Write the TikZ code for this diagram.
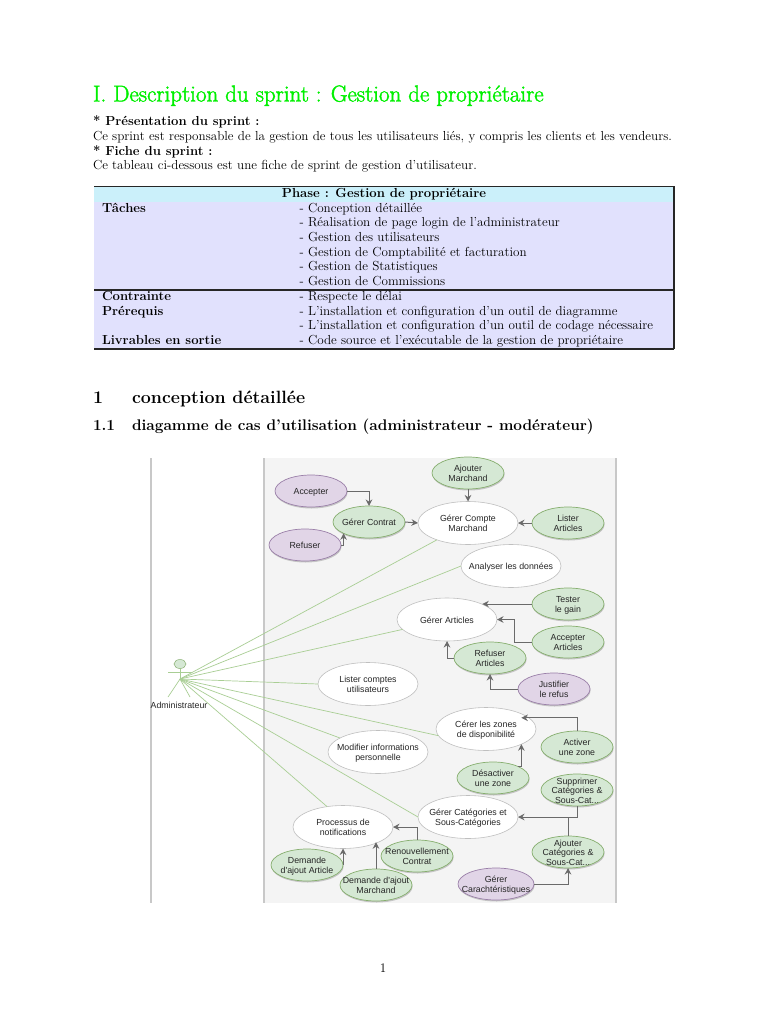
\documentclass[tikz,border=0pt]{standalone}
\usepackage{fontspec}
\newfontfamily\diagfont{Liberation Sans}
\usetikzlibrary{shapes.geometric,arrows.meta,shadows}
\definecolor{titlegreen}{HTML}{00F000}
\definecolor{headband}{HTML}{CBF0FA}
\definecolor{bodyband}{HTML}{E1E1FD}
\definecolor{panelgray}{HTML}{F4F4F4}
\definecolor{framegray}{HTML}{C8C8C8}
\definecolor{usegreen}{HTML}{D5E8D4}
\definecolor{usegreenb}{HTML}{86AE6E}
\definecolor{usepurple}{HTML}{E1D5E7}
\definecolor{usepurpleb}{HTML}{9A7FA8}
\definecolor{linkgreen}{HTML}{A9CE94}
\definecolor{arrowgray}{HTML}{6A6A6A}
\newcommand\tx[1]{\makebox[0pt]{\raisebox{-4pt}[0pt][0pt]{$\vcenter{\hbox{\begin{tabular}{@{}c@{}}#1\end{tabular}}}$}}}
\newcommand\thick[1]{\special{pdf:code 2 Tr 0.4 w}#1\special{pdf:code 0 Tr}}
\tikzset{
  txt/.style={anchor=base west,inner sep=0pt,outer sep=0pt,font=\fontsize{13.1}{15}\selectfont},
  txb/.style={txt,font=\fontsize{13.1}{15}\selectfont\bfseries},
  uc/.style={ellipse,inner sep=0pt,outer sep=0pt,minimum width=72pt,minimum height=32pt,
    font=\diagfont\fontsize{8.8}{9.5}\selectfont,text=black!85,line width=.7pt,
    drop shadow={shadow xshift=.6pt,shadow yshift=-1.5pt,fill=black!35,opacity=.6}},
  ucg/.style={uc,draw=usegreenb,fill=usegreen},
  ucp/.style={uc,draw=usepurpleb,fill=usepurple},
  ucw/.style={ellipse,inner sep=0pt,outer sep=0pt,minimum width=100pt,minimum height=43pt,
    font=\diagfont\fontsize{8.8}{9.5}\selectfont,text=black!85,line width=.6pt,draw=black!25,fill=white},
  assoc/.style={draw=linkgreen,line width=.7pt},
  dep/.style={draw=arrowgray,line width=1pt,-{Stealth[length=6.5pt,width=6.5pt]}},
  depn/.style={draw=arrowgray,line width=1pt},
  frameln/.style={draw=framegray,line width=1.3pt},
  rule/.style={draw=black!85,line width=1.1pt}
}
\begin{document}
\begin{tikzpicture}[x=1pt,y=-1pt]
\useasboundingbox (0,0) rectangle (768,1024);
\fill[white] (0,0) rectangle (768,1024);

% headings and text
\node[txt,text=titlegreen,font=\fontsize{23}{26}\selectfont] (title) at (93,101.5) {\thick{I. Description du sprint : Gestion de propriétaire}};
\node[txb] (p1) at (93,126) {* Présentation du sprint :};
\node[txt] (p2) at (93,141) {Ce sprint est responsable de la gestion de tous les utilisateurs liés, y compris les clients et les vendeurs.};
\node[txb] (p3) at (93,156) {* Fiche du sprint :};
\node[txt] (p4) at (93,170) {Ce tableau ci-dessous est une fiche de sprint de gestion d’utilisateur.};

% table
\fill[bodyband] (94,187) rectangle (674,349);
\fill[headband] (94,187) rectangle (674,202);
\draw[rule] (94,186.5) -- (674,186.5);
\draw[rule] (94,290) -- (674,290);
\draw[rule] (94,349) -- (674,349);
\draw[rule] (674,186.5) -- (674,349);
\node[txb,anchor=base] (th) at (384,198) {Phase : Gestion de propriétaire};
\node[txb] (c1) at (102,212.5) {Tâches};
\node[txt] (d1) at (299.5,212.5) {- Conception détaillée};
\node[txt] (d2) at (299.5,226.5) {- Réalisation de page login de l’administrateur};
\node[txt] (d3) at (299.5,241.5) {- Gestion des utilisateurs};
\node[txt] (d4) at (299.5,256) {- Gestion de Comptabilité et facturation};
\node[txt] (d5) at (299.5,270.5) {- Gestion de Statistiques};
\node[txt] (d6) at (299.5,285.5) {- Gestion de Commissions};
\node[txb] (c2) at (102,300) {Contrainte};
\node[txt] (d7) at (299.5,300) {- Respecte le délai};
\node[txb] (c3) at (102,315) {Prérequis};
\node[txt] (d8) at (299.5,315) {- L’installation et configuration d’un outil de diagramme};
\node[txt] (d9) at (299.5,329.5) {- L’installation et configuration d’un outil de codage nécessaire};
\node[txb] (c4) at (102,344.5) {Livrables en sortie};
\node[txt] (d10) at (299.5,344.5) {- Code source et l’exécutable de la gestion de propriétaire};

\node[txb,font=\fontsize{17.8}{22}\selectfont\bfseries] (s1n) at (93,403) {1};
\node[txb,font=\fontsize{17.8}{22}\selectfont\bfseries] (s1) at (132,403) {conception détaillée};
\node[txb,font=\fontsize{15.4}{18}\selectfont\bfseries] (s2n) at (93,430) {1.1};
\node[txb,font=\fontsize{15.4}{18}\selectfont\bfseries] (s2) at (132,430) {diagamme de cas d’utilisation (administrateur - modérateur)};
\node[txt,anchor=base] (pg) at (383,972) {1};

% diagram frame
\fill[panelgray] (264,458) rectangle (616,903);
\draw[frameln] (151,458) -- (151,903);
\draw[frameln] (264,458) -- (264,903);
\draw[frameln] (616,458) -- (616,903);

% actor
\coordinate (hub) at (180,679);
\node[ellipse,draw=usegreenb,fill=usegreen,inner sep=0pt,minimum width=12pt,minimum height=9pt,line width=.5pt] (head) at (180,664) {};
\coordinate (armL) at (168,672);
\coordinate (armR) at (192,672);
\coordinate (legL) at (168,697);
\coordinate (legM) at (190,697);
\draw[assoc] (head.south) -- (hub);
\draw[assoc] (armL) -- (armR);
\draw[assoc] (hub) -- (legL);
\draw[assoc] (hub) -- (legM);
\node[font=\diagfont\fontsize{8.8}{9.5}\selectfont,text=black!85,inner sep=0pt] (admin) at (179,705) {Administrateur};

% white use cases
\node[ucw] (cmp) at (468,523) {\tx{Gérer Compte\\Marchand}};
\node[ucw] (ana) at (511,566) {\tx{Analyser les données}};
\node[ucw] (ges) at (447,619.5) {\tx{Gérer Articles}};
\node[ucw] (lst) at (368,684) {\tx{Lister comptes\\utilisateurs}};
\node[ucw] (crz) at (486,729) {\tx{Cérer les zones\\de disponibilité}};
\node[ucw] (mod) at (378,752) {\tx{Modifier informations\\personnelle}};
\node[ucw] (cat) at (468,817) {\tx{Gérer Catégories et\\Sous-Catégories}};
\node[ucw] (pro) at (343,827) {\tx{Processus de\\notifications}};

% associations
\draw[assoc] (hub) -- (cmp);
\draw[assoc] (hub) -- (ana.west);
\draw[assoc] (hub) -- (ges);
\draw[assoc] (hub) -- (lst.west);
\draw[assoc] (hub) -- (crz.188);
\draw[assoc] (hub) -- (mod);
\draw[assoc] (hub) -- (cat.west);
\draw[assoc] (hub) -- (pro.128);

% green and purple use cases
\node[ucp] (acc) at (311,491) {\tx{Accepter}};
\node[ucp] (ref) at (305,545) {\tx{Refuser}};
\node[ucg] (ctr) at (369,522) {\tx{Gérer Contrat}};
\node[ucg] (ajm) at (468,473) {\tx{Ajouter\\Marchand}};
\node[ucg] (lia) at (568,523) {\tx{Lister\\Articles}};
\node[ucg] (tst) at (568,604) {\tx{Tester\\le gain}};
\node[ucg] (aca) at (568,642) {\tx{Accepter\\Articles}};
\node[ucg] (rfa) at (490,658) {\tx{Refuser\\Articles}};
\node[ucp] (jus) at (554,689) {\tx{Justifier\\le refus}};
\node[ucg] (act) at (577,747) {\tx{Activer\\une zone}};
\node[ucg] (dez) at (493,778) {\tx{Désactiver\\une zone}};
\node[ucg] (sup) at (577,790) {\tx{Supprimer\\Catégories \&\\Sous-Cat...}};
\node[ucg] (ajc) at (568,852) {\tx{Ajouter\\Catégories \&\\Sous-Cat...}};
\node[ucp,minimum width=76pt] (car) at (496,884) {\tx{Gérer\\Carachtéristiques}};
\node[ucg] (ren) at (417,856) {\tx{Renouvellement\\Contrat}};
\node[ucg] (dam) at (376,885) {\tx{Demande d'ajout\\Marchand}};
\node[ucg] (dar) at (307,865) {\tx{Demande\\d'ajout Article}};

% dependencies
\draw[dep] (acc.east) -| (ctr.north);
\draw[dep] (ref.east) -| (ctr.south west);
\draw[dep] (ctr.east) -- (cmp.west);
\draw[dep] (ajm.south) -- (cmp.north);
\draw[dep] (lia.west) -- (cmp.east);
\draw[dep] (tst.west) -- (tst.west -| ges.north east);
\draw[dep] (aca.west) -- ++(-18,0) |- (ges.east);
\draw[dep] (rfa.west) -| (ges.south);
\draw[dep] (jus.west) -| (rfa.south);
\draw[dep] (act.north) |- ([yshift=-4pt]crz.north east);
\draw[dep] (dez.north east) -| (crz.south east);
\draw[dep] (sup.south) |- (cat.east);
\draw[depn] (ajc.north) -- (ajc.north |- cat.east);
\draw[dep] (car.east) -| (ajc.south);
\draw[dep] (ren.north) |- (pro.east);
\draw[dep] (dar.east) -| (pro.south);
\draw[dep] (dam.north) -- (dam.north |- pro.south east);
\end{tikzpicture}
\end{document}
